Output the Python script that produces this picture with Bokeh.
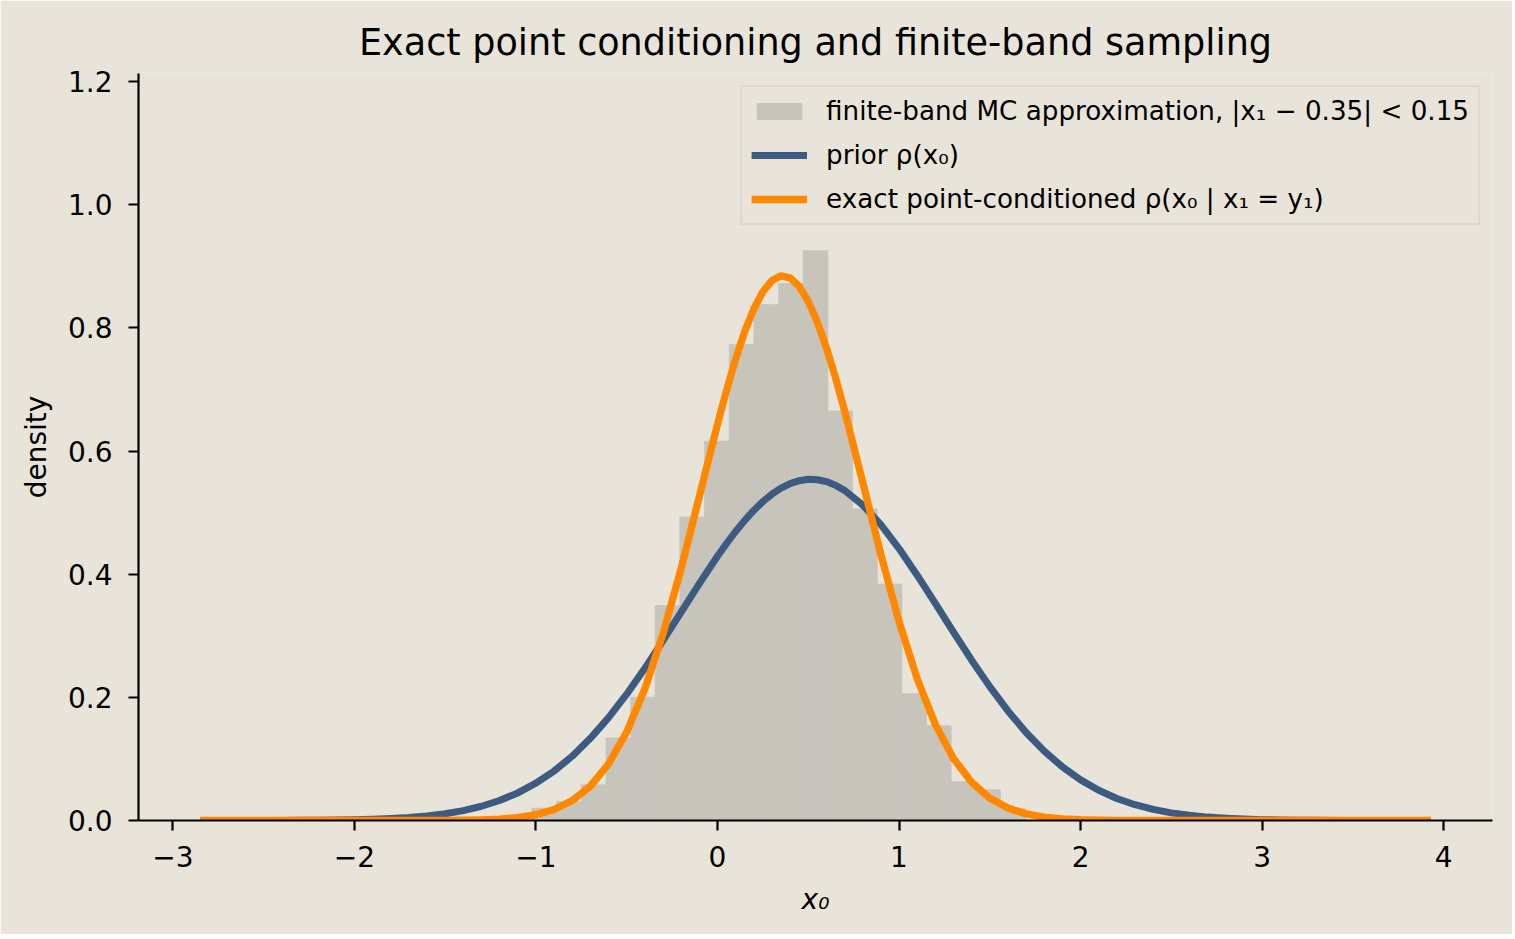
from bokeh.plotting import figure
from bokeh.models import (ColumnDataSource, FixedTicker, CustomJSTickFormatter,
                          PrintfTickFormatter, Legend, LegendItem, Range1d)
from bokeh.embed import file_html
from bokeh.resources import INLINE

# --- data --------------------------------------------------------------
bin_edges = [-1.022, -0.886, -0.750, -0.614, -0.478, -0.343, -0.207, -0.071,
             0.065, 0.201, 0.337, 0.472, 0.608, 0.744, 0.880, 1.016, 1.152,
             1.287, 1.423, 1.559, 1.695]
band_density = [0.020, 0.031, 0.058, 0.134, 0.200, 0.349, 0.493, 0.616,
                0.773, 0.838, 0.872, 0.925, 0.665, 0.506, 0.384, 0.206,
                0.154, 0.063, 0.050, 0.019]

x_grid = [-2.85, -2.8, -2.7, -2.6, -2.5, -2.4, -2.3, -2.2, -2.1, -2.0,
          -1.9, -1.8, -1.7, -1.6, -1.5, -1.4, -1.3, -1.2, -1.1, -1.0,
          -0.9, -0.8, -0.7, -0.6, -0.5, -0.4, -0.3, -0.2, -0.1, 0.0,
          0.05, 0.1, 0.15, 0.2, 0.25, 0.3, 0.35, 0.4, 0.45, 0.5, 0.55, 0.6,
          0.65, 0.7, 0.8, 0.9, 1.0,
          1.1, 1.2, 1.3, 1.4, 1.5, 1.6, 1.7, 1.8, 1.9, 2.0,
          2.1, 2.2, 2.3, 2.4, 2.5, 2.6, 2.7, 2.8, 2.9, 3.0,
          3.1, 3.2, 3.3, 3.4, 3.5, 3.6, 3.7, 3.8, 3.9, 3.93]
prior_density = [0.0, 0.0, 0.0, 0.0, 0.0001, 0.0002, 0.0003, 0.0005, 0.0008, 0.0012,
                 0.0020, 0.0032, 0.0049, 0.0074, 0.0110, 0.0161, 0.0231, 0.0325, 0.0448, 0.0606,
                 0.0803, 0.1045, 0.1334, 0.1671, 0.2051, 0.2471, 0.2920, 0.3384, 0.3847, 0.4290,
                 0.4498, 0.4693, 0.4873, 0.5035, 0.5178, 0.5299, 0.5398, 0.5471, 0.5518, 0.5540,
                 0.5534, 0.5503, 0.5445, 0.5361, 0.5123, 0.4803, 0.4416,
                 0.3983, 0.3524, 0.3058, 0.2603, 0.2174, 0.1780, 0.1430, 0.1127, 0.0871, 0.0660,
                 0.0491, 0.0358, 0.0256, 0.0180, 0.0124, 0.0084, 0.0055, 0.0036, 0.0023, 0.0014,
                 0.0009, 0.0005, 0.0003, 0.0002, 0.0001, 0.0001, 0.0, 0.0, 0.0, 0.0]
cond_density = [0.0, 0.0, 0.0, 0.0, 0.0, 0.0, 0.0, 0.0, 0.0, 0.0,
                0.0, 0.0, 0.0, 0.0001, 0.0002, 0.0004, 0.0010, 0.0022, 0.0047, 0.0094,
                0.0179, 0.0324, 0.0559, 0.0918, 0.1436, 0.2138, 0.3032, 0.4092, 0.5258, 0.6433,
                0.6985, 0.7492, 0.7937, 0.8306, 0.8587, 0.8768, 0.8844, 0.8811, 0.8672, 0.8430,
                0.8095, 0.7678, 0.7194, 0.6658, 0.5496, 0.4320, 0.3232,
                0.2302, 0.1561, 0.1008, 0.0620, 0.0363, 0.0202, 0.0107, 0.0054, 0.0026, 0.0012,
                0.0005, 0.0002, 0.0001, 0.0, 0.0, 0.0, 0.0, 0.0, 0.0, 0.0,
                0.0, 0.0, 0.0, 0.0, 0.0, 0.0, 0.0, 0.0, 0.0, 0.0]

x_ticks = [-3, -2, -1, 0, 1, 2, 3, 4]
y_ticks = [0.0, 0.2, 0.4, 0.6, 0.8, 1.0, 1.2]

labels = ["finite-band MC approximation, |x\u2081 \u2212 0.35| < 0.15",
          "prior \u03c1(x\u2080)",
          "exact point-conditioned \u03c1(x\u2080 | x\u2081 = y\u2081)"]

BG = "#e8e4da"
HIST = "#c7c4bc"
FONT = "DejaVu Sans"

# --- figure -------------------------------------------------------------
p = figure(frame_width=1354, frame_height=747,
           x_range=Range1d(-3.189, 4.269), y_range=Range1d(0, 1.213),
           min_border_left=138, min_border_right=20,
           min_border_top=73, min_border_bottom=114,
           background_fill_color=BG, border_fill_color=BG,
           outline_line_color=None, output_backend="svg",
           toolbar_location=None,
           title="Exact point conditioning and finite-band sampling")
p.grid.visible = False

p.title.align = "center"
p.title.text_font = FONT
p.title.text_font_size = "36.6px"
p.title.text_font_style = "normal"
p.title.text_color = "black"
p.title.standoff = 19

hist_src = ColumnDataSource(dict(left=bin_edges[:-1], right=bin_edges[1:],
                                 top=band_density))
r_hist = p.quad(left="left", right="right", bottom=0, top="top", source=hist_src,
                fill_color=HIST, line_color=HIST, line_width=0.8)
r_prior = p.line(x_grid, prior_density, line_color="#3d5a80", line_width=7,
                 line_join="round")
r_cond = p.line(x_grid, cond_density, line_color="#ff8800", line_width=7.3,
                line_join="round")

for ax in (p.xaxis[0], p.yaxis[0]):
    ax.axis_line_width = 2.2
    ax.axis_line_color = "black"
    ax.major_tick_line_width = 2.2
    ax.major_tick_line_color = "black"
    ax.major_tick_out = 10
    ax.major_tick_in = 0
    ax.minor_tick_line_color = None
    ax.major_label_text_font = FONT
    ax.major_label_text_font_size = "28px"
    ax.major_label_text_color = "black"
    ax.axis_label_text_font = FONT
    ax.axis_label_text_font_size = "28px"
    ax.axis_label_text_color = "black"

p.xaxis.ticker = FixedTicker(ticks=x_ticks)
p.xaxis.formatter = CustomJSTickFormatter(
    code="return tick < 0 ? '\u2212' + Math.abs(tick) : String(tick);")
p.xaxis.major_label_standoff = 15
p.xaxis.axis_label = "x\u2080"
p.xaxis.axis_label_text_font_style = "italic"
p.xaxis.axis_label_standoff = 13

p.yaxis.ticker = FixedTicker(ticks=y_ticks)
p.yaxis.formatter = PrintfTickFormatter(format="%.1f")
p.yaxis.major_label_standoff = 16
p.yaxis.axis_label = "density"
p.yaxis.axis_label_text_font_style = "normal"
p.yaxis.axis_label_standoff = 12

legend = Legend(items=[LegendItem(label=labels[0], renderers=[r_hist]),
                       LegendItem(label=labels[1], renderers=[r_prior]),
                       LegendItem(label=labels[2], renderers=[r_cond])],
                location="top_right")
legend.label_text_font = FONT
legend.label_text_font_size = "26.2px"
legend.label_text_color = "black"
legend.glyph_width = 56
legend.glyph_height = 20
legend.label_height = 30
legend.label_standoff = 19
legend.spacing = 14
legend.padding = 9
legend.margin = 12
legend.background_fill_color = BG
legend.background_fill_alpha = 0.8
legend.border_line_color = "#cfcbc2"
legend.border_line_width = 2
p.add_layout(legend)

open("out.html", "w").write(file_html(p, INLINE))
